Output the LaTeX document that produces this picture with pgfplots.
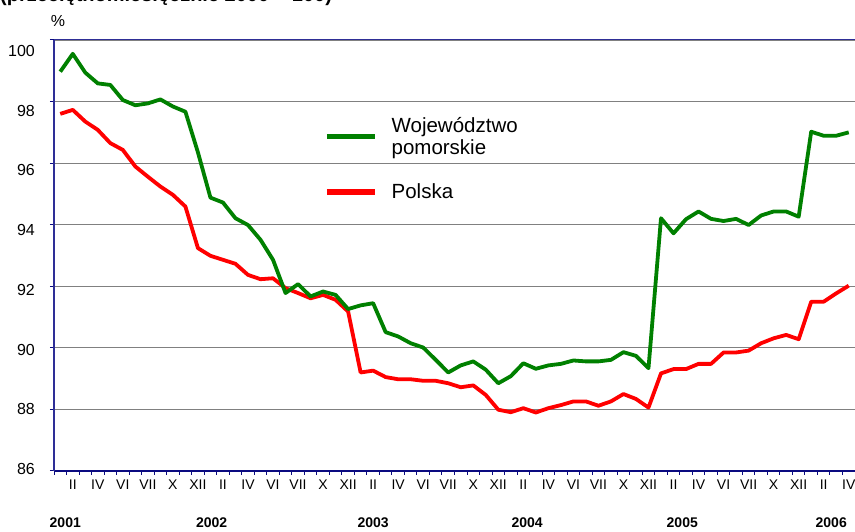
\documentclass[border=0pt]{standalone}
\usepackage{pgfplots}
\pgfplotsset{compat=1.18}
\usepackage{pgfplotstable}
\usepackage{fontspec}
\setmainfont{Liberation Sans}
\definecolor{navyA}{RGB}{46,46,150}
\definecolor{navyB}{RGB}{10,10,128}
\definecolor{gridg}{RGB}{128,128,128}
\definecolor{lgreen}{RGB}{0,128,0}
\definecolor{lred}{RGB}{255,0,0}

\pgfplotstableread{
m g r
1 98.97 97.60
2 99.55 97.73
3 98.94 97.35
4 98.59 97.08
5 98.54 96.65
6 98.05 96.43
7 97.88 95.89
8 97.94 95.56
9 98.07 95.24
10 97.84 94.97
11 97.67 94.59
12 96.35 93.24
13 94.88 92.99
14 94.72 92.86
15 94.21 92.73
16 93.99 92.37
17 93.51 92.23
18 92.86 92.26
19 91.78 91.94
20 92.07 91.78
21 91.67 91.61
22 91.83 91.72
23 91.72 91.56
24 91.26 91.18
25 91.38 89.20
26 91.45 89.26
27 90.51 89.05
28 90.37 88.98
29 90.15 88.98
30 90.01 88.93
31 89.61 88.93
32 89.20 88.85
33 89.43 88.72
34 89.56 88.78
35 89.29 88.47
36 88.85 87.99
37 89.08 87.91
38 89.50 88.04
39 89.32 87.90
40 89.43 88.04
41 89.48 88.14
42 89.59 88.26
43 89.56 88.26
44 89.56 88.12
45 89.61 88.26
46 89.86 88.50
47 89.74 88.34
48 89.34 88.06
49 94.21 89.17
50 93.72 89.31
51 94.18 89.31
52 94.43 89.48
53 94.19 89.48
54 94.12 89.85
55 94.19 89.85
56 93.99 89.91
57 94.30 90.15
58 94.43 90.31
59 94.43 90.42
60 94.26 90.28
61 97.02 91.50
62 96.89 91.50
63 96.89 91.77
64 97.00 92.02
}\data

\begin{document}
\begin{tikzpicture}
\begin{axis}[
  at={(54pt,61pt)}, anchor=south west,
  scale only axis, width=801pt, height=431pt,
  xmin=0.5, xmax=64.5, ymin=86, ymax=100,
  clip=false,
  axis line style={draw=none},
  /pgf/number format/assume math mode=true,
  ytick={86,88,...,100},
  ymajorgrids, grid style={gridg, line width=1.2pt},
  xtick={0.5,1.5,...,64.5}, xticklabels={},
  tick align=outside, tick pos=left,
  major tick length=4pt,
  tick style={navyB, line width=1pt},
  extra x ticks={2,4,...,64},
  extra x tick labels={II,IV,VI,VII,X,XII,II,IV,VI,VII,X,XII,II,IV,VI,VII,X,XII,II,IV,VI,VII,X,XII,II,IV,VI,VII,X,XII,II,IV},
  extra x tick style={major tick length=0pt, xticklabel style={inner sep=0pt, anchor=north, yshift=-9pt, font=\fontsize{14}{14}\selectfont}},
  yticklabel style={font=\fontsize{16}{16}\selectfont, inner sep=0pt, anchor=east, xshift=-15pt, yshift={(2-(\tick-86)*0.93)*1pt}},
  legend style={draw=none, fill=none, at={(rel axis cs:0.337,0.825)}, anchor=north west,
    inner sep=0pt, font=\fontsize{20.5}{21.5}\selectfont, row sep=24pt, column sep=12pt,
    cells={anchor=west, inner sep=0pt}},
  legend cell align=left,
  legend image code/.code={\draw[#1, line width=5.5pt] (0pt,0pt) -- (48pt,0pt);},
  reverse legend,
]
\addplot[lred, line width=3.8pt, line join=round] table[x=m,y=r]{\data};
\addlegendentry{Polska}
\addplot[lgreen, line width=3.8pt, line join=round] table[x=m,y=g]{\data};
\addlegendentry[align=left]{Województwo\\pomorskie}
\draw[navyA, line width=1pt] (rel axis cs:0,1) -- (rel axis cs:1,1);
\draw[navyB, line width=2pt] (rel axis cs:0,0) -- (rel axis cs:1,0);
\draw[navyA, line width=2.5pt] (rel axis cs:0,0) -- (rel axis cs:0,1);
\node[font=\fontsize{16}{16}\selectfont, anchor=base, inner sep=0pt] at (rel axis cs:0,1) [xshift=4pt, yshift=13pt] {\%};
\node[font=\bfseries\fontsize{14}{14}\selectfont, anchor=base, inner sep=0pt] at (axis cs:1.4,86) [yshift=-57pt] {2001};
\node[font=\bfseries\fontsize{14}{14}\selectfont, anchor=base, inner sep=0pt] at (axis cs:13.1,86) [yshift=-57pt] {2002};
\node[font=\bfseries\fontsize{14}{14}\selectfont, anchor=base, inner sep=0pt] at (axis cs:26.0,86) [yshift=-57pt] {2003};
\node[font=\bfseries\fontsize{14}{14}\selectfont, anchor=base, inner sep=0pt] at (axis cs:38.3,86) [yshift=-57pt] {2004};
\node[font=\bfseries\fontsize{14}{14}\selectfont, anchor=base, inner sep=0pt] at (axis cs:50.7,86) [yshift=-57pt] {2005};
\node[font=\bfseries\fontsize{14}{14}\selectfont, anchor=base, inner sep=0pt] at (axis cs:62.6,86) [yshift=-57pt] {2006};
\end{axis}
\node[anchor=base west, font=\bfseries\fontsize{20}{20}\selectfont, inner sep=0pt] at (0pt,530.5pt) {(przeciętnomiesięcznie 2000 = 100)};
\pgfresetboundingbox
\path[use as bounding box] (0pt,0pt) rectangle (855pt,532pt);
\end{tikzpicture}
\end{document}
